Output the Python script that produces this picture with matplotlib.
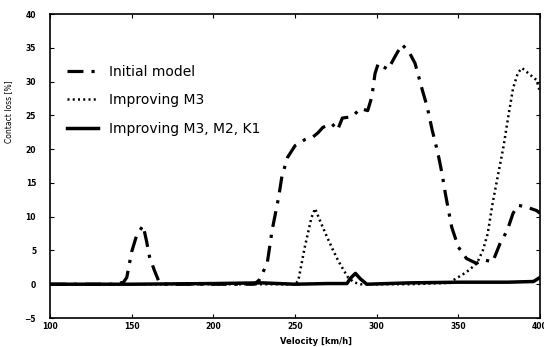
import matplotlib
matplotlib.use("Agg")
import matplotlib.pyplot as plt
import numpy as np

# Initial model (dash-dot)
init_v = [100, 140, 145, 147, 150, 153, 157, 159, 161, 164, 167, 170, 200, 225,
          228, 233, 236, 240, 242, 245.5, 250, 256, 261, 264, 267, 272.5, 276,
          279, 285, 290, 294.5, 297, 299, 301, 304, 307, 311, 315.5, 320, 323.5,
          328, 331, 334, 336, 338, 340, 342, 344, 346, 350, 355, 361, 366, 371,
          375.5, 380, 383.5, 386.5, 392, 398, 400]
init_y = [0, 0, 0.3, 1.0, 4.8, 7.2, 8.7, 6.5, 4.0, 2.0, 0.2, 0, 0, 0,
          0.6, 3.1, 8.0, 12.9, 16.0, 18.8, 20.5, 21.4, 21.8, 22.4, 23.2, 23.8, 22.8,
          24.6, 24.8, 26.0, 25.7, 27.7, 31.2, 32.7, 32.2, 31.8, 33.6, 35.5, 34.3, 32.7,
          28.7, 26.2, 22.8, 20.9, 18.8, 16.4, 13.5, 10.9, 8.4, 5.5, 3.8, 3.1, 3.6, 3.3,
          6.0, 8.0, 10.5, 11.7, 11.4, 10.9, 10.5]

# Improving M3 (dotted)
m3_v = [100, 200, 250, 252, 256, 260, 262.3, 266, 269.6, 273, 276.4, 279.5, 282.5,
        286, 290, 320, 345, 347, 351, 355, 358, 361.4, 365, 368, 371, 374, 377.6,
        380.5, 383.5, 386.5, 389, 394, 398, 400]
m3_y = [0, 0, 0, 0.5, 5.5, 9.8, 11.2, 9.0, 7.0, 5.2, 3.5, 2.2, 1.0,
        0.3, 0, 0, 0.2, 0.6, 1.2, 1.8, 2.4, 3.1, 5.0, 7.5, 12.0, 15.8, 20.3,
        24.7, 29.0, 31.3, 32.0, 31.0, 30.2, 28.4]

# Improving M3, M2, K1 (solid)
all_v = [100, 150, 200, 230, 250, 270, 281.8, 284, 287, 290, 294, 320, 350, 380, 396, 398, 400]
all_y = [0, 0, 0.1, 0.2, 0, 0.1, 0.1, 0.9, 1.6, 0.8, 0, 0.2, 0.3, 0.3, 0.4, 0.7, 1.0]

fig = plt.figure(figsize=(5.44, 3.47), dpi=100)
ax = fig.add_axes([50 / 544, 29 / 347, 490 / 544, 304 / 347])

ax.plot(init_v, init_y, color="black", lw=2.3, linestyle=(0, (5, 2.5, 1, 2.5)),
        label="Initial model")
ax.plot(m3_v, m3_y, color="black", lw=1.8, linestyle=(0, (0.8, 1.3)),
        label="Improving M3")
ax.plot(all_v, all_y, color="black", lw=2.5, label="Improving M3, M2, K1")

ax.set_xlim(100, 400)
ax.set_ylim(-5, 40)
ax.set_xticks(np.arange(100, 401, 50))
ax.set_yticks(np.arange(-5, 41, 5))
ax.tick_params(direction="in", top=True, right=True, length=3, width=0.8,
               labelsize=5.5)
ax.tick_params(axis="y", pad=10)
ax.tick_params(axis="x", pad=3)
for lbl in ax.get_xticklabels() + ax.get_yticklabels():
    lbl.set_fontweight("bold")
for sp in ax.spines.values():
    sp.set_linewidth(1.2)

ax.set_xlabel("Velocity [km/h]", fontsize=6, fontweight="bold")
ax.xaxis.set_label_coords(0.543, -0.062)
ax.set_ylabel("Contact loss [%]", fontsize=5.5)
ax.yaxis.set_label_coords(-0.075, 0.68)

ax.legend(loc="upper left", bbox_to_anchor=(0.01, 0.875), frameon=False,
          fontsize=10, handlelength=2.2, labelspacing=1.05, handletextpad=0.8)

fig.savefig("out.png", dpi=100)
